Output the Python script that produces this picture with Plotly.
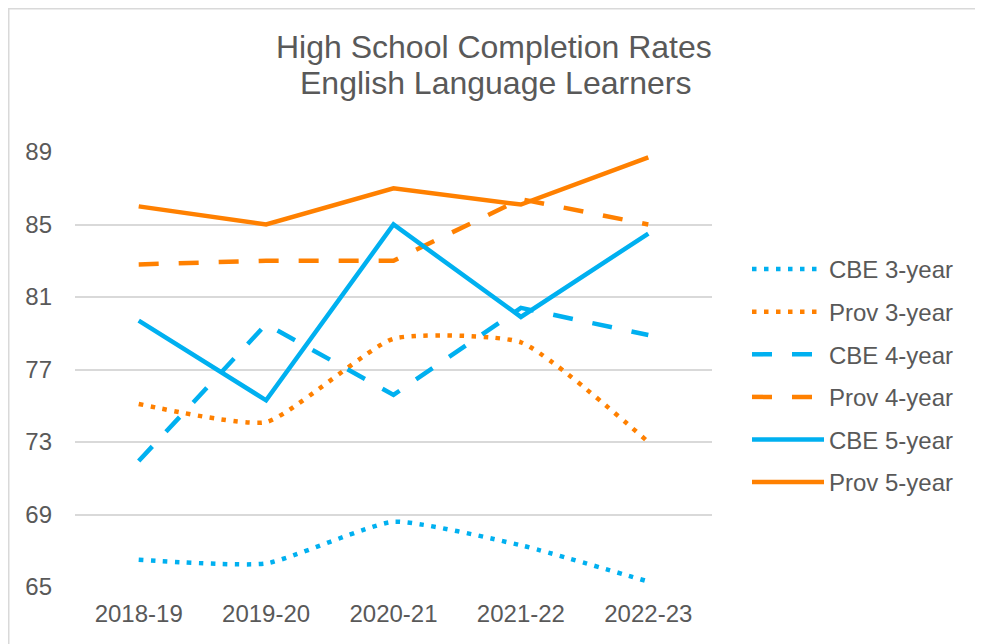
import plotly.graph_objects as go

categories = ["2018-19", "2019-20", "2020-21", "2021-22", "2022-23"]
cbe_3yr = [66.5, 66.3, 68.6, 67.3, 65.3]
prov_3yr = [75.1, 74.1, 78.7, 78.5, 73.0]
cbe_4yr = [71.95, 79.5, 75.6, 80.4, 78.9]
prov_4yr = [82.8, 83.0, 83.0, 86.4, 85.0]
cbe_5yr = [79.7, 75.3, 85.0, 79.9, 84.5]
prov_5yr = [86.0, 85.0, 87.0, 86.1, 88.7]
y_ticks = [65, 69, 73, 77, 81, 85, 89]

BLUE = "#00B0F0"
ORANGE = "#FF8000"
TXT = "#595959"
GRID = "#D9D9D9"

OFF = 8  # page body margin offset
W, H = 983, 644
# desired screen plot area: x 75..712, y 152..587
L = 75 - OFF
T = 152 - OFF
pw = 712 - 75
ph = 587 - 152
R = W - L - pw
B = H - T - ph


def px_x(sx):
    return (sx - OFF - L) / pw


def px_y(sy):
    return 1 - (sy - OFF - T) / ph


series = [
    ("CBE 3-year", cbe_3yr, BLUE, "4.5px,7.5px", "spline"),
    ("Prov 3-year", prov_3yr, ORANGE, "4.5px,7.5px", "spline"),
    ("CBE 4-year", cbe_4yr, BLUE, "20px,20px", "linear"),
    ("Prov 4-year", prov_4yr, ORANGE, "20px,20px", "linear"),
    ("CBE 5-year", cbe_5yr, BLUE, "solid", "linear"),
    ("Prov 5-year", prov_5yr, ORANGE, "solid", "linear"),
]

fig = go.Figure()
for name, vals, color, dash, shape in series:
    line = dict(color=color, width=4.5, dash=dash, shape=shape)
    if shape == "spline":
        line["smoothing"] = 0.5
    fig.add_trace(go.Scatter(
        x=categories, y=vals, name=name, mode="lines",
        line=line, legendgroup=name,
    ))

font = "Liberation Sans, Arial, sans-serif"
fig.update_layout(
    width=W, height=H,
    margin=dict(l=L, r=R, t=T, b=B),
    paper_bgcolor="white", plot_bgcolor="white",
    font=dict(family=font, color=TXT, size=24),
    showlegend=True,
    legend=dict(x=px_x(747), y=px_y(247), xanchor="left", yanchor="top",
                font=dict(size=24, color=TXT), tracegroupgap=8.4, itemwidth=72,
                bgcolor="rgba(0,0,0,0)"),
    xaxis=dict(type="category", range=[-0.5, 4.5], showgrid=False, showline=False,
               ticks="", tickfont=dict(size=24, color=TXT), zeroline=False,
               ticklabelstandoff=10),
    yaxis=dict(range=[65, 89], tickvals=y_ticks, showgrid=True, gridcolor=GRID,
               gridwidth=1.5, zeroline=False, showline=False, ticks="",
               tickfont=dict(size=24, color=TXT), ticklabelstandoff=22),
    annotations=[
        dict(text="High School Completion Rates", xref="paper", yref="paper",
             x=px_x(494), y=px_y(47), xanchor="center", yanchor="middle",
             showarrow=False, font=dict(size=32, color=TXT)),
        dict(text="English Language Learners", xref="paper", yref="paper",
             x=px_x(495), y=px_y(83), xanchor="center", yanchor="middle",
             showarrow=False, font=dict(size=32, color=TXT)),
    ],
    shapes=[dict(type="rect", xref="paper", yref="paper",
                 x0=px_x(OFF + 0.75), x1=px_x(981),
                 y0=px_y(700), y1=px_y(OFF + 0.75),
                 line=dict(color=GRID, width=1.5), layer="below")],
)
fig.write_html("out.html")
